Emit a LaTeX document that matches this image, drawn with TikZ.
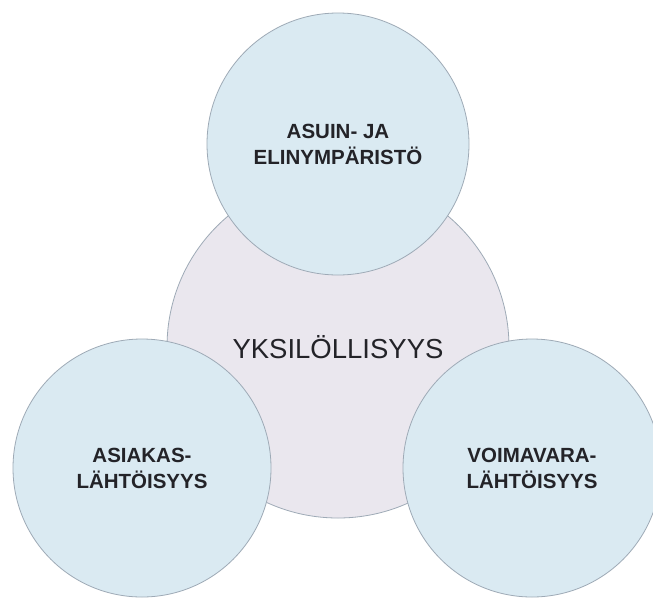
\documentclass[tikz,border=0pt]{standalone}
\usepackage{fontspec}
\setmainfont{Liberation Sans}
\definecolor{bluefill}{RGB}{218,234,242}
\definecolor{corefill}{RGB}{234,231,238}
\definecolor{ringline}{RGB}{158,170,182}
\definecolor{txt}{RGB}{35,35,40}
\begin{document}
\begin{tikzpicture}[x=1pt,y=-1pt,
  disc/.style={circle,draw=ringline,line width=0.8pt,inner sep=0pt,align=center,text=txt},
  outer/.style={disc,fill=bluefill,font=\fontsize{20.5}{26}\selectfont\bfseries},
  core/.style={disc,fill=corefill,font=\fontsize{27.5}{32}\selectfont}]
  \useasboundingbox (0,0) rectangle (653,598);
  \clip (0,0) rectangle (653,598);
  \fill[white] (0,0) rectangle (653,598);
  % central circle
  \node[core,minimum size=342pt] (yks) at (338,347) {YKSILÖLLISYYS};
  % three surrounding circles
  \node[outer,minimum size=262pt] (asuin) at (338,144) {ASUIN- JA\\ELINYMPÄRISTÖ};
  \node[outer,minimum size=258pt] (asiakas) at (142,468) {ASIAKAS-\\LÄHTÖISYYS};
  \node[outer,minimum size=258pt] (voima) at (532,468) {VOIMAVARA-\\LÄHTÖISYYS};
\end{tikzpicture}
\end{document}
